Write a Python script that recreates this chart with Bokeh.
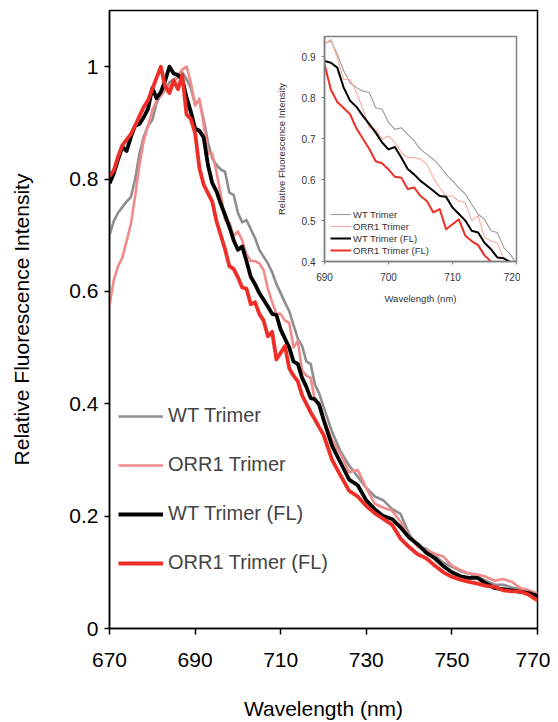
from bokeh.plotting import figure
from bokeh.models import Range1d, FixedTicker, NumeralTickFormatter
from bokeh.embed import file_html
from bokeh.resources import INLINE

# ---------------- data ----------------
WAVELENGTH = [670, 671, 672, 673, 674, 675, 676, 677, 678, 679,
              680, 681, 682, 683, 684, 685, 686, 687, 688, 689,
              690, 691, 692, 693, 694, 695, 696, 697, 698, 699,
              700, 701, 702, 703, 704, 705, 706, 707, 708, 709,
              710, 711, 712, 713, 714, 715, 716, 717, 718, 719, 720,
              722, 724, 726, 728, 730, 732, 734, 736, 738, 740,
              742, 744, 746, 748, 750, 752, 754, 756, 758, 760,
              762, 764, 766, 768, 770]

WT_TRIMER = [0.700, 0.725, 0.740, 0.750, 0.760, 0.768, 0.800, 0.845, 0.875, 0.895,
             0.905, 0.935, 0.950, 0.960, 0.972, 0.978, 0.980, 0.990, 0.978, 0.962,
             0.933, 0.939, 0.907, 0.866, 0.837, 0.825, 0.817, 0.813, 0.776, 0.772,
             0.740, 0.723, 0.727, 0.711, 0.695, 0.674, 0.662, 0.650, 0.634, 0.613,
             0.597, 0.580, 0.565, 0.540, 0.516, 0.503, 0.475, 0.471, 0.434, 0.418, 0.395,
             0.350, 0.315, 0.290, 0.270, 0.250, 0.235, 0.228, 0.213, 0.204, 0.168,
             0.146, 0.142, 0.130, 0.117, 0.110, 0.102, 0.098, 0.092, 0.085, 0.078,
             0.078, 0.073, 0.070, 0.066, 0.062]

ORR1_TRIMER = [0.575, 0.620, 0.645, 0.660, 0.690, 0.720, 0.770, 0.825, 0.868, 0.895,
               0.922, 0.940, 0.948, 0.958, 0.965, 0.970, 0.985, 0.995, 1.000, 0.972,
               0.931, 0.943, 0.898, 0.845, 0.845, 0.813, 0.772, 0.727, 0.723, 0.699,
               0.707, 0.691, 0.666, 0.654, 0.654, 0.650, 0.638, 0.605, 0.581, 0.560,
               0.560, 0.548, 0.544, 0.500, 0.512, 0.459, 0.450, 0.446, 0.406, 0.402, 0.375,
               0.335, 0.310, 0.278, 0.282, 0.250, 0.222, 0.215, 0.210, 0.190, 0.165,
               0.145, 0.140, 0.133, 0.128, 0.112, 0.104, 0.098, 0.096, 0.092, 0.085,
               0.088, 0.083, 0.072, 0.068, 0.062]

WT_TRIMER_FL = [0.792, 0.810, 0.835, 0.857, 0.850, 0.875, 0.895, 0.898, 0.910, 0.925,
                0.962, 0.944, 0.955, 0.975, 1.000, 0.988, 0.985, 0.978, 0.945, 0.920,
                0.890, 0.886, 0.874, 0.825, 0.793, 0.778, 0.756, 0.736, 0.715, 0.691,
                0.674, 0.680, 0.654, 0.626, 0.613, 0.597, 0.585, 0.573, 0.560, 0.558,
                0.532, 0.516, 0.500, 0.475, 0.471, 0.446, 0.430, 0.410, 0.408, 0.398, 0.372,
                0.325, 0.295, 0.265, 0.255, 0.228, 0.212, 0.200, 0.195, 0.180, 0.162,
                0.150, 0.135, 0.125, 0.111, 0.100, 0.093, 0.090, 0.090, 0.080, 0.072,
                0.070, 0.068, 0.065, 0.063, 0.058]

ORR1_TRIMER_FL = [0.805, 0.815, 0.840, 0.860, 0.870, 0.880, 0.895, 0.912, 0.928, 0.940,
                  0.960, 0.980, 1.000, 0.965, 0.953, 0.975, 0.960, 0.985, 0.915, 0.907,
                  0.882, 0.820, 0.790, 0.775, 0.760, 0.725, 0.700, 0.675, 0.645, 0.640,
                  0.625, 0.607, 0.605, 0.577, 0.581, 0.560, 0.548, 0.520, 0.528, 0.479,
                  0.491, 0.503, 0.463, 0.450, 0.440, 0.415, 0.400, 0.385, 0.372, 0.358, 0.345,
                  0.300, 0.272, 0.245, 0.235, 0.218, 0.205, 0.195, 0.185, 0.160, 0.145,
                  0.132, 0.125, 0.112, 0.100, 0.092, 0.087, 0.083, 0.080, 0.076, 0.074,
                  0.068, 0.066, 0.066, 0.060, 0.050]

SERIES_NAMES = ["WT Trimer", "ORR1 Trimer", "WT Trimer (FL)", "ORR1 Trimer (FL)"]
SERIES_VALUES = [WT_TRIMER, ORR1_TRIMER, WT_TRIMER_FL, ORR1_TRIMER_FL]

MAIN_X_TICKS = [670, 690, 710, 730, 750, 770]
MAIN_Y_TICKS = [0, 0.2, 0.4, 0.6, 0.8, 1.0]
INSET_X_TICKS = [690, 700, 710, 720]
INSET_Y_TICKS = [0.4, 0.5, 0.6, 0.7, 0.8, 0.9]

# ---------------- styles ----------------
FONT = "Liberation Sans"
MAIN_COLORS = ["#8e8e92", "#f28a8a", "#000000", "#ee2f27"]
MAIN_WIDTHS = [2.6, 2.6, 3.8, 3.8]
INSET_COLORS = ["#9a9a9a", "#f9aa9c", "#000000", "#ee2f27"]
INSET_WIDTHS = [1.1, 1.1, 2.0, 2.0]

# ---------------- main figure ----------------
p = figure(width=550, height=722, output_backend="svg", toolbar_location=None,
           x_range=Range1d(670, 770), y_range=Range1d(0, 1.1),
           min_border_left=109, min_border_right=13, min_border_top=10, min_border_bottom=94)
p.outline_line_color = "black"
p.outline_line_width = 1.5
p.xgrid.visible = False
p.ygrid.visible = False

for name, vals, col, lw in zip(SERIES_NAMES, SERIES_VALUES, MAIN_COLORS, MAIN_WIDTHS):
    p.line(WAVELENGTH, vals, color=col, line_width=lw, legend_label=name, line_join="round")

for ax in (p.xaxis[0], p.yaxis[0]):
    ax.axis_line_color = "black"
    ax.axis_line_width = 1.5
    ax.major_tick_line_color = "black"
    ax.major_tick_line_width = 1.5
    ax.minor_tick_line_color = None
    ax.major_tick_in = 0
    ax.major_label_text_font = FONT
    ax.major_label_text_font_size = "21px"
    ax.major_label_text_color = "black"
    ax.axis_label_text_font = FONT
    ax.axis_label_text_font_size = "21px"
    ax.axis_label_text_font_style = "normal"
    ax.axis_label_text_color = "black"

p.xaxis.ticker = FixedTicker(ticks=MAIN_X_TICKS)
p.yaxis.ticker = FixedTicker(ticks=MAIN_Y_TICKS)
p.yaxis.formatter = NumeralTickFormatter(format="0.[0]")
p.xaxis.major_tick_out = 6
p.yaxis.major_tick_out = 5
p.xaxis.major_label_standoff = 18
p.yaxis.major_label_standoff = 6
p.xaxis.axis_label = "Wavelength (nm)"
p.yaxis.axis_label = "Relative Fluorescence Intensity"
p.xaxis.axis_label_standoff = 27
p.yaxis.axis_label_standoff = 33

lg = p.legend[0]
lg.location = (9, 54)
lg.glyph_width = 45
lg.glyph_height = 20
lg.label_height = 20
lg.spacing = 26
lg.padding = 0
lg.margin = 0
lg.label_standoff = 5
lg.border_line_alpha = 0
lg.background_fill_alpha = 0
lg.label_text_font = FONT
lg.label_text_font_size = "20px"

# ---------------- inset figure ----------------
q = figure(width=248, height=280, output_backend="svg", toolbar_location=None,
           x_range=Range1d(690, 720), y_range=Range1d(0.4, 0.95),
           min_border_left=50, min_border_right=4, min_border_top=6, min_border_bottom=49)
q.background_fill_alpha = 0
q.border_fill_alpha = 0
q.outline_line_color = "#808080"
q.outline_line_width = 1.5
q.xgrid.visible = False
q.ygrid.visible = False

for name, vals, col, lw in zip(SERIES_NAMES, SERIES_VALUES, INSET_COLORS, INSET_WIDTHS):
    q.line(WAVELENGTH, vals, color=col, line_width=lw, legend_label=name, line_join="round")

for ax in (q.xaxis[0], q.yaxis[0]):
    ax.axis_line_color = "#808080"
    ax.axis_line_width = 1.5
    ax.major_tick_line_color = "#808080"
    ax.major_tick_line_width = 1.2
    ax.minor_tick_line_color = None
    ax.major_tick_in = 0
    ax.major_tick_out = 3
    ax.major_label_text_font = FONT
    ax.major_label_text_font_size = "10px"
    ax.major_label_text_color = "#333333"
    ax.axis_label_text_font = FONT
    ax.axis_label_text_font_size = "9.5px"
    ax.axis_label_text_font_style = "normal"
    ax.axis_label_text_color = "#333333"

q.xaxis.ticker = FixedTicker(ticks=INSET_X_TICKS)
q.yaxis.ticker = FixedTicker(ticks=INSET_Y_TICKS)
q.yaxis.formatter = NumeralTickFormatter(format="0.0")
q.xaxis.major_label_standoff = 8
q.yaxis.major_label_standoff = 6
q.xaxis.axis_label = "Wavelength (nm)"
q.yaxis.axis_label = "Relative Fluorescence Intensity"
q.xaxis.axis_label_standoff = 9
q.yaxis.axis_label_standoff = 12

lq = q.legend[0]
lq.location = (6, 5)
lq.glyph_width = 21
lq.glyph_height = 12
lq.label_height = 12
lq.spacing = 0
lq.padding = 0
lq.margin = 0
lq.label_standoff = 2
lq.border_line_alpha = 0
lq.background_fill_alpha = 0
lq.label_text_font = FONT
lq.label_text_font_size = "9.5px"
lq.label_text_color = "#333333"

q.styles = {"position": "absolute", "left": "272px", "top": "30px",
            "width": "248px", "height": "280px"}

open("out.html", "w").write(file_html([p, q], INLINE))
